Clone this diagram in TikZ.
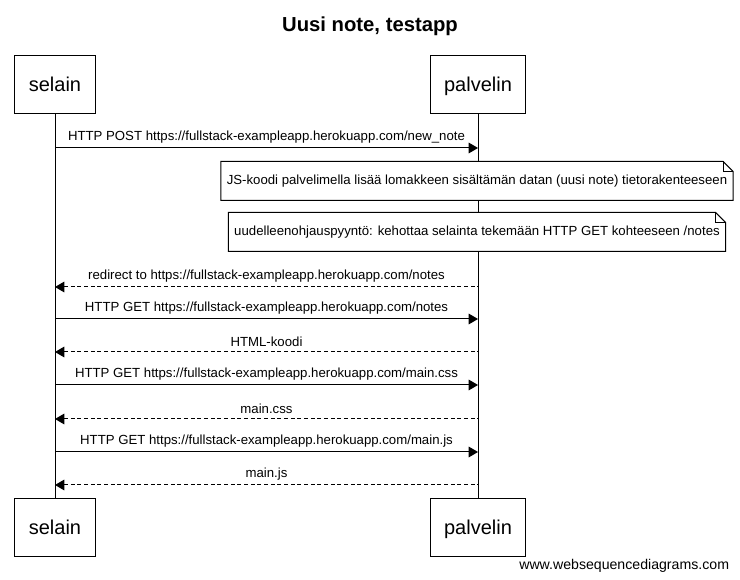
\documentclass[tikz,border=0pt]{standalone}
\usepackage{fontspec}
\setmainfont{Liberation Sans}
\usepackage{tikz}
\usetikzlibrary{arrows.meta}

\tikzset{
  actor/.style={draw, fill=white, inner xsep=10.5pt, minimum height=43.5pt, text height=1.25em, text depth=0.2em, font=\fontsize{15}{18}\selectfont},
  msg/.style={-{Triangle[length=7pt,width=8pt]}},
  reply/.style={{Triangle[length=7pt,width=8pt]}-, dash pattern=on 3pt off 2pt},
  notebox/.style={inner xsep=4pt, minimum height=28.5pt}
}

\begin{document}
\begin{tikzpicture}[x=0.75pt, y=-0.75pt, font=\fontsize{9.9}{12}\selectfont, line width=0.75pt]
                        \useasboundingbox (0,0) rectangle (740,580);
                        \node[font=\bfseries\fontsize{15.2}{18}\selectfont] (title) at (370,26) {Uusi note, testapp};
                        % participants
                        \node[actor] (s) at (55,85) {selain};
                        \node[actor] (p) at (478,85) {palvelin};
                        \node[actor] (s2) at (55,528) {selain};
                        \node[actor] (p2) at (478,528) {palvelin};
                        \draw (s) -- (s2);
                        \draw (p) -- (p2);
                        % messages
                        \foreach \n/\y/\sty/\txt in {
                            1/148/msg/{HTTP POST https://fullstack-exampleapp.herokuapp.com/new\_note},
                            2/287/reply/{redirect to https://fullstack-exampleapp.herokuapp.com/notes},
                            3/319/msg/{HTTP GET https://fullstack-exampleapp.herokuapp.com/notes},
                            4/352/reply/{HTML-koodi},
                            5/385/msg/{HTTP GET https://fullstack-exampleapp.herokuapp.com/main.css},
                            6/419/reply/{main.css},
                            7/452/msg/{HTTP GET https://fullstack-exampleapp.herokuapp.com/main.js},
                            8/485/reply/{main.js}}
                        {
                            \coordinate (s\n) at (55,\y);
                            \coordinate (p\n) at (478,\y);
                            \draw[\sty] (s\n) -- node[above=0pt] {\txt} (p\n);
                        }
                        % notes
                        \node[notebox] (note1) at (477,181) {JS-koodi palvelimella lisää lomakkeen sisältämän datan (uusi note) tietorakenteeseen};
                        \node[notebox] (note2) at (477,232) {uudelleenohjauspyyntö: kehottaa selainta tekemään HTTP GET kohteeseen /notes};
                        \foreach \m in {note1,note2}
                        {
                            \filldraw[fill=white] (\m.south west) -- (\m.south east) -- ([yshift=-7.5pt]\m.north east) -- ([xshift=-7.5pt]\m.north east) -- (\m.north west) -- cycle;
                            \draw ([xshift=-7.5pt]\m.north east) -- ([xshift=-7.5pt,yshift=-7.5pt]\m.north east) -- ([yshift=-7.5pt]\m.north east);
                        }
                        \node at (note1) {JS-koodi palvelimella lisää lomakkeen sisältämän datan (uusi note) tietorakenteeseen};
                        \node at (note2) {uudelleenohjauspyyntö: kehottaa selainta tekemään HTTP GET kohteeseen /notes};
                        \node[anchor=east, font=\fontsize{10.6}{12}\selectfont] (footer) at (734,566) {www.websequencediagrams.com};
                    \end{tikzpicture}
\end{document}
